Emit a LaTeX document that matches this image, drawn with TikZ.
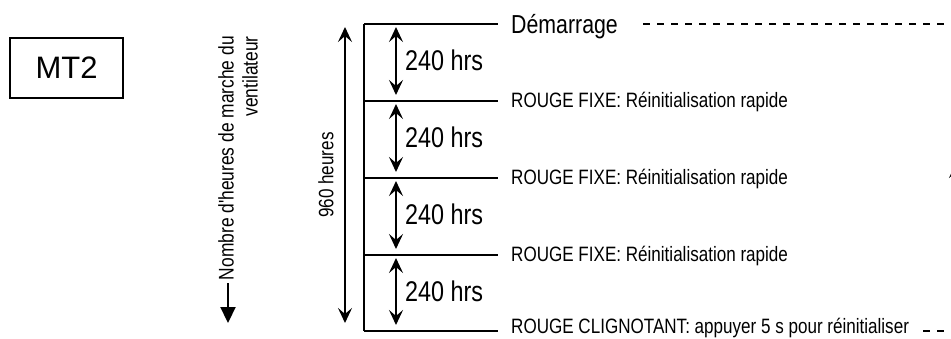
\documentclass[tikz,border=0pt]{standalone}
\usepackage{fontspec}
\setmainfont{Liberation Sans}
\newfontfamily\narrow{Liberation Sans}[FakeStretch=0.82]
\usetikzlibrary{arrows.meta}
\begin{document}
\begin{tikzpicture}[x=1pt,y=-1pt,
  lbl/.style={font=\narrow\fontsize{20.8}{24}\selectfont, anchor=base west, inner sep=0pt},
  lblbig/.style={font=\narrow\fontsize{26}{30}\selectfont, anchor=base west, inner sep=0pt},
  hrs/.style={font=\narrow\fontsize{28.5}{32}\selectfont, anchor=west, inner sep=0pt},
  rule/.style={line width=2.6pt},
  tip/.style={Stealth[length=15pt,width=14pt,inset=6pt]},
  dbl/.style={line width=2pt, {Stealth[length=15pt,width=14pt,inset=6pt]}-{Stealth[length=15pt,width=14pt,inset=6pt]}},
  dashline/.style={line width=2.2pt, dash pattern=on 7pt off 7pt}
]
\useasboundingbox (0,0) rectangle (951,338);
\clip (0,0) rectangle (951,338);

% MT2 box
\node[draw, line width=1.3pt, minimum width=113pt, minimum height=60pt, inner sep=0pt,
      font=\fontsize{31}{36}\selectfont] (mt2) at (66.5,68) {MT2};

% axis label
\node[rotate=90, anchor=north east, align=right, inner sep=0pt,
      font=\narrow\fontsize{21.2}{24}\selectfont] (axis) at (218,36)
      {Nombre d'heures de marche du\\ventilateur};
\coordinate (ax0) at (228,283);
\coordinate (ax1) at (228,323);
\draw[line width=2.2pt, -{Triangle[length=16pt,width=15pt]}] (ax0) -- (ax1);

% 960 heures
\coordinate (t960) at (345,27);
\coordinate (b960) at (345,323);
\draw[dbl] (b960) -- (t960);
\node[rotate=90, inner sep=0pt, font=\narrow\fontsize{20.8}{24}\selectfont] (h960) at (326,175) {960 heures};

% rules
\coordinate (b0) at (364,24);
\coordinate (b1) at (364,101);
\coordinate (b2) at (364,178);
\coordinate (b3) at (364,255);
\coordinate (b4) at (364,331);
\coordinate (e0) at (498,24);
\coordinate (e1) at (498,101);
\coordinate (e2) at (498,178);
\coordinate (e3) at (498,255);
\coordinate (e4) at (498,331);
\draw[rule] (b0) -- (b4);
\foreach \i in {0,...,4} { \draw[rule] (b\i) -- (e\i); }

% 240 hrs arrows
\coordinate (s0a) at (396,27);  \coordinate (s0b) at (396,95);
\coordinate (s1a) at (396,104); \coordinate (s1b) at (396,172);
\coordinate (s2a) at (396,181); \coordinate (s2b) at (396,249);
\coordinate (s3a) at (396,258); \coordinate (s3b) at (396,325);
\foreach \i in {0,...,3} { \draw[dbl] (s\i a) -- (s\i b); }
\node[hrs] (r0) at (405,60) {240 hrs};
\node[hrs] (r1) at (405,137) {240 hrs};
\node[hrs] (r2) at (405,214) {240 hrs};
\node[hrs] (r3) at (405,291) {240 hrs};

% labels
\node[lblbig] (l0) at (511,33) {Démarrage};
\node[lbl] (l1) at (511,107) {ROUGE FIXE: Réinitialisation rapide};
\node[lbl] (l2) at (511,184) {ROUGE FIXE: Réinitialisation rapide};
\node[lbl] (l3) at (511,261) {ROUGE FIXE: Réinitialisation rapide};
\node[lbl] (l4) at (511,333) {ROUGE CLIGNOTANT: appuyer 5 s pour réinitialiser};

% dashed return
\coordinate (d0) at (643,24);  \coordinate (d0e) at (965,24);
\coordinate (d1) at (923,331); \coordinate (d1e) at (965,331);
\draw[dashline] (d0) -- (d0e);
\draw[dashline] (d1) -- (d1e);
\coordinate (ra0) at (956,200); \coordinate (ra1) at (956,163);
\draw[line width=2pt, -{Stealth[length=15pt,width=14pt,inset=6pt]}] (ra0) -- (ra1);
\end{tikzpicture}
\end{document}
